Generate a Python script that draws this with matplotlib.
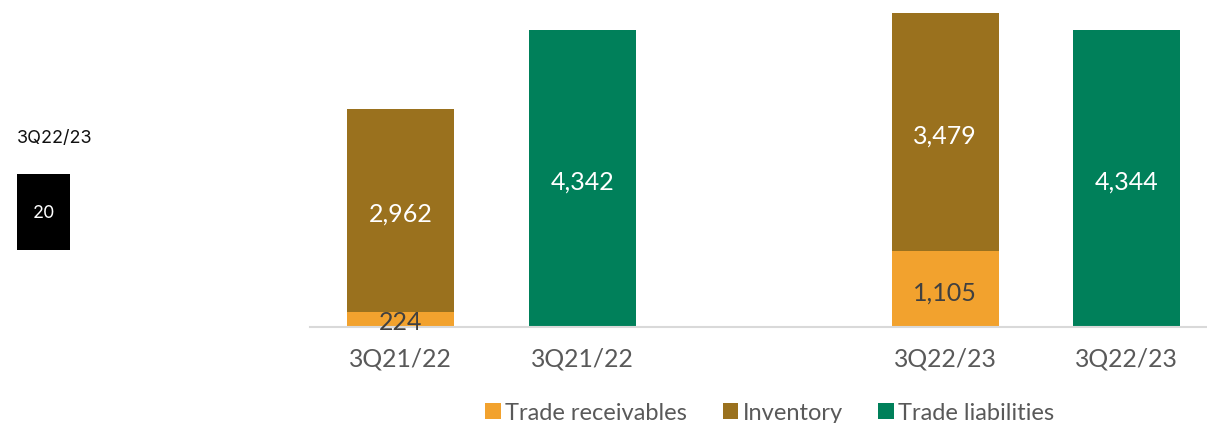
import matplotlib
matplotlib.use("Agg")
import matplotlib.pyplot as plt
from matplotlib.patches import Rectangle

categories = ["3Q21/22", "3Q21/22", "3Q22/23", "3Q22/23"]
positions = [0, 1, 3, 4]
receivables = [224, 0, 1105, 0]
inventory = [2962, 0, 3479, 0]
liabilities = [0, 4342, 0, 4344]
series_names = ["Trade receivables", "Inventory", "Trade liabilities"]
colors = ["#F2A22E", "#9A711E", "#00805A"]
side_label = "3Q22/23"
side_box = "20"

plt.rcParams['font.family'] = ['Lato', 'DejaVu Sans']
W, H = 1207, 423
fig = plt.figure(figsize=(W / 100, H / 100), dpi=100)
ax = fig.add_axes([310 / W, (H - 327) / H, (W - 310) / W, 327 / H])

bw = 0.59
b1 = ax.bar(positions, receivables, bw, color=colors[0], label=series_names[0])
b2 = ax.bar(positions, inventory, bw, bottom=receivables, color=colors[1], label=series_names[1])
b3 = ax.bar(positions, liabilities, bw, color=colors[2], label=series_names[2])

fs = 18
def label(x, y, val, color):
    ax.annotate(f"{val:,}", (x, y), xytext=(0, -2.5), textcoords="offset points",
                ha="center", va="center", fontsize=fs, color=color)

for i, p in enumerate(positions):
    if receivables[i]:
        label(p, receivables[i] / 2, receivables[i], "#404040")
    if inventory[i]:
        label(p, receivables[i] + inventory[i] / 2, inventory[i], "white")
    if liabilities[i]:
        label(p, liabilities[i] / 2, liabilities[i], "white")

ax.set_xlim(-0.5, (W - 310) / 181.5 - 0.5)
ax.set_ylim(0, 327 / (297 / 4342))
ax.set_xticks(positions)
ax.set_xticklabels(categories, fontsize=17.8, color="#595959")
ax.tick_params(axis="x", length=0, pad=15)
ax.set_yticks([])
for s in ["top", "right", "left"]:
    ax.spines[s].set_visible(False)
ax.spines["bottom"].set_color("#D9D9D9")
ax.spines["bottom"].set_linewidth(1.5)

leg = fig.legend(handles=[b1, b2, b3], labels=series_names, loc="center",
                 bbox_to_anchor=(770 / W, 1 - 413 / H), ncol=3, frameon=False,
                 fontsize=17, handlelength=0.65, handleheight=0.65, handletextpad=0.2,
                 columnspacing=1.5, labelcolor="#595959")

fig.text(17 / W, 1 - 138 / H, side_label, ha="left", va="center", fontsize=13,
         color="#111111", family=["Inter", "DejaVu Sans"])
fig.patches.append(Rectangle((17 / W, 1 - 250 / H), 53 / W, 76 / H, transform=fig.transFigure,
                             facecolor="black", edgecolor="none"))
fig.text(43.5 / W, 1 - 213 / H, side_box, ha="center", va="center", fontsize=13,
         color="white", family=["Inter", "DejaVu Sans"])

fig.savefig("out.png", dpi=100)
